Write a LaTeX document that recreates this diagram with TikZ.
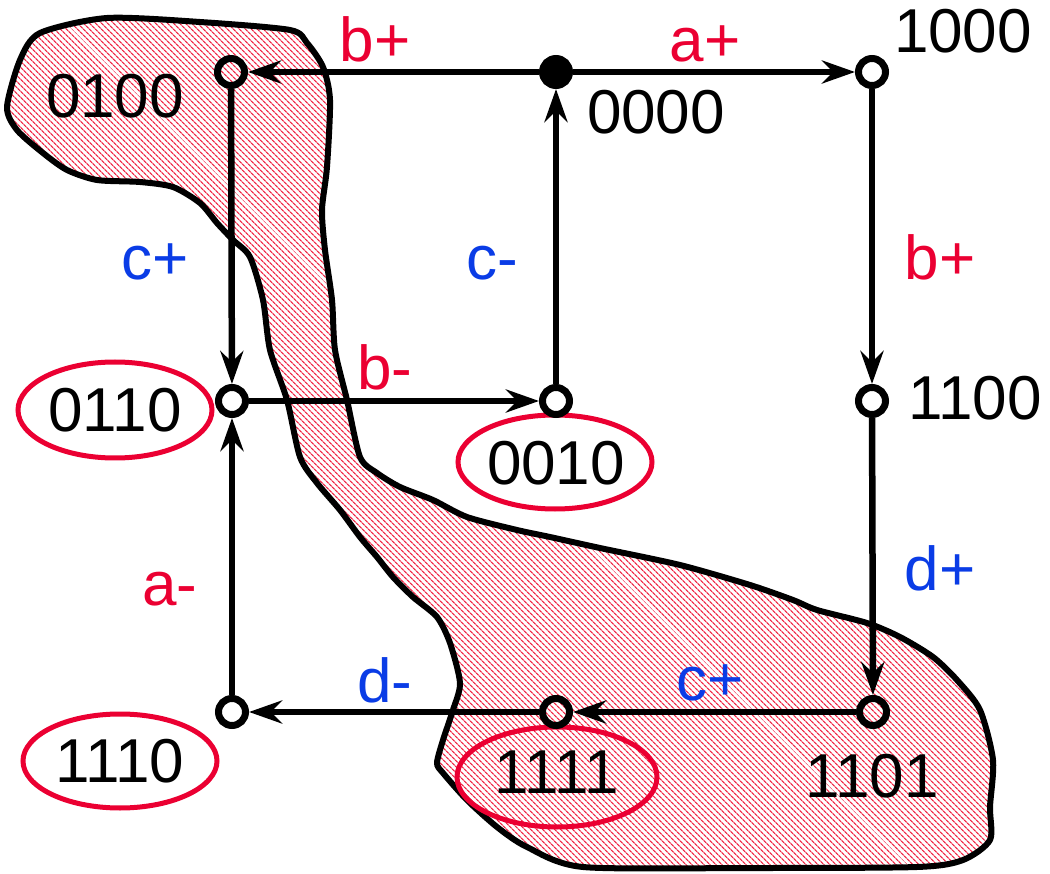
\documentclass[tikz,border=0pt]{standalone}
\usepackage{fontspec}
\setmainfont{Liberation Sans}
\usetikzlibrary{arrows.meta,patterns.meta}
\definecolor{lred}{RGB}{235,0,50}
\definecolor{lblue}{RGB}{10,60,230}
\definecolor{hred}{RGB}{240,40,70}
\tikzset{
  st/.style={circle,draw,line width=7pt,minimum size=27pt,inner sep=0pt},
  stf/.style={st,fill=black},
  tx/.style={anchor=base,inner sep=0pt,font=\fontsize{62}{62}\selectfont},
  rl/.style={tx,text=lred},
  bl/.style={tx,text=lblue},
  ed/.style={line width=6.5pt,-{Stealth[length=33pt,width=23pt,inset=11pt]}},
  ring/.style={draw=lred,line width=5pt},
  blob/.style={draw=black,line width=6pt,line join=round,pattern={Lines[angle=-45,distance=4pt,line width=1.3pt]},pattern color=hred}
}
\begin{document}
\begin{tikzpicture}[x=1pt,y=-1pt]
\useasboundingbox (0,0) rectangle (1050,874);
% region
\draw[blob] plot[smooth cycle,tension=0.45] coordinates {
(40,33) (107,18) (200,22) (290,30) (307,43) (323,67) (330,100) (327,167) (322,210) (325,250) (332,300) (335,350) (347,400) (360,457) (377,473) (400,487) (433,500) (467,517) (517,530) (550,537) (600,548) (680,565) (750,585) (793,600) (817,610) (867,623) (900,637) (933,657) (957,680) (980,710) (993,760) (990,807) (990,840) (963,860) (917,867) (750,868) (583,867) (527,847) (497,827) (467,800) (443,773) (437,763) (443,740) (453,710) (460,683) (450,643) (437,617) (413,597) (393,577) (377,557) (360,537) (340,510) (317,483) (300,457) (287,400) (270,350) (263,300) (250,257) (233,240) (217,223) (200,203) (173,187) (140,182) (97,180) (67,170) (43,153) (17,130) (7,107) (20,60)};
% rings
\draw[ring] (115,410) ellipse [x radius=97pt,y radius=48pt];
\draw[ring] (555,462) ellipse [x radius=97pt,y radius=47pt];
\draw[ring] (120,761) ellipse [x radius=97pt,y radius=47pt];
\draw[ring] (557,777) ellipse [x radius=100pt,y radius=50pt];
% states
\node[st]  (n0100) at (231,72) {};
\node[stf] (n0000) at (556,72) {};
\node[st]  (n1000) at (872,72) {};
\node[st]  (n0110) at (232,401) {};
\node[st]  (n0010) at (556,401) {};
\node[st]  (n1100) at (872,401) {};
\node[st]  (n1110) at (232,712) {};
\node[st]  (n1111) at (556,712) {};
\node[st]  (n1101) at (873,712) {};
% transitions
\draw[ed] (n0000) -- (n0100);
\draw[ed] (n0000) -- (n1000);
\draw[ed] (n0100) -- (n0110);
\draw[ed] (n0010) -- (n0000);
\draw[ed] (n0110) -- (n0010);
\draw[ed] (n1000) -- (n1100);
\draw[ed] (n1100) -- (n1101);
\draw[ed] (n1101) -- (n1111);
\draw[ed] (n1111) -- (n1110);
\draw[ed] (n1110) -- (n0110);
% state labels
\node[tx] (t0100) at (115,118) {0100};
\node[tx] (t0000) at (656,134) {0000};
\node[tx] (t1000) at (963,53) {1000};
\node[tx] (t0110) at (115,432) {0110};
\node[tx] (t0010) at (556,485) {0010};
\node[tx] (t1100) at (975,420) {1100};
\node[tx] (t1110) at (120,782) {1110};
\node[tx] (t1111) at (557,793) {1111};
\node[tx] (t1101) at (872,797) {1101};
% transition labels
\node[rl] (lb1) at (375,62) {b+};
\node[rl] (la1) at (705,62) {a+};
\node[bl] (lc1) at (155,280) {c+};
\node[bl] (lc2) at (492,280) {c-};
\node[rl] (lb2) at (940,280) {b+};
\node[rl] (lb3) at (385,390) {b-};
\node[bl] (ld1) at (940,590) {d+};
\node[rl] (la2) at (170,605) {a-};
\node[bl] (ld2) at (385,702) {d-};
\node[bl] (lc3) at (710,700) {c+};
\end{tikzpicture}
\end{document}
